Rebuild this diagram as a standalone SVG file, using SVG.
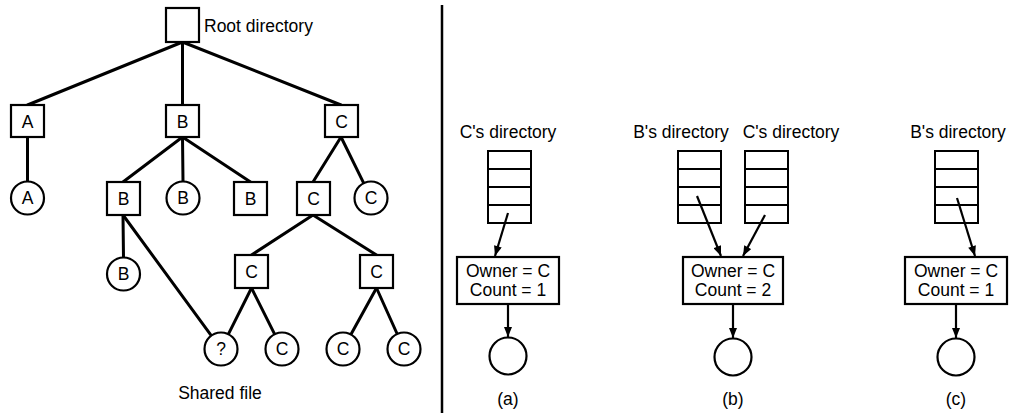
<svg xmlns="http://www.w3.org/2000/svg" width="1009" height="413" viewBox="0 0 1009 413">
<style>
text{font-family:"Liberation Sans",Arial,sans-serif;font-size:17.5px;fill:#000}
.c{text-anchor:middle}
.box{fill:#fff;stroke:#000;stroke-width:2.2}
.edge{stroke:#000;stroke-width:3;fill:none;stroke-linecap:round}
.tbl{fill:none;stroke:#000;stroke-width:2}
.arr{stroke:#000;stroke-width:2.2;fill:none;marker-end:url(#ah)}
</style>
<defs>
<marker id="ah" viewBox="0 0 10 8" refX="10" refY="4" markerWidth="11" markerHeight="8" markerUnits="userSpaceOnUse" orient="auto">
<path d="M0,0 L10,4 L0,8 z" fill="#000"/>
</marker>
</defs>
<rect width="1009" height="413" fill="#fff"/>
<g id="connectors">
<line class="edge" x1="182.5" y1="42" x2="27.5" y2="105"/>
<line class="edge" x1="182.5" y1="42" x2="182.5" y2="105"/>
<line class="edge" x1="182.5" y1="42" x2="341" y2="105"/>
<line class="edge" x1="27.5" y1="137" x2="27.5" y2="181.5"/>
<line class="edge" x1="182.5" y1="137" x2="123" y2="182"/>
<line class="edge" x1="182.5" y1="137" x2="183" y2="181.5"/>
<line class="edge" x1="182.5" y1="137" x2="250.5" y2="182"/>
<line class="edge" x1="341" y1="137" x2="313" y2="182"/>
<line class="edge" x1="341" y1="137" x2="363.7" y2="183.2"/>
<line class="edge" x1="123" y1="215" x2="123.5" y2="257.5"/>
<line class="edge" x1="123" y1="215" x2="211.3" y2="335.7"/>
<line class="edge" x1="313" y1="215" x2="251.5" y2="255"/>
<line class="edge" x1="313" y1="215" x2="376.5" y2="255"/>
<line class="edge" x1="251.5" y1="288" x2="228.4" y2="334.2"/>
<line class="edge" x1="251.5" y1="288" x2="274.6" y2="334.2"/>
<line class="edge" x1="376.5" y1="288" x2="350.9" y2="334.5"/>
<line class="edge" x1="376.5" y1="288" x2="397.2" y2="334"/>
<line x1="442" y1="5" x2="442" y2="413" stroke="#000" stroke-width="2.5"/>
<line class="arr" x1="508" y1="213" x2="495" y2="256"/>
<line class="arr" x1="508" y1="304" x2="508" y2="337"/>
<line class="arr" x1="697" y1="196" x2="721" y2="256"/>
<line class="arr" x1="765" y1="215" x2="743" y2="256"/>
<line class="arr" x1="733" y1="304" x2="733" y2="338"/>
<line class="arr" x1="957" y1="198" x2="975" y2="256"/>
<line class="arr" x1="956" y1="304" x2="956" y2="338"/>
</g>
<g id="root"><rect class="box" x="166" y="8" width="33" height="34"/><text x="204" y="31.5">Root directory</text></g>
<g id="dirA"><rect class="box" x="11" y="105" width="33" height="32"/><text class="c" x="27.5" y="127.5">A</text></g>
<g id="dirB"><rect class="box" x="166" y="105" width="33" height="32"/><text class="c" x="182.5" y="127.5">B</text></g>
<g id="dirC"><rect class="box" x="325" y="105" width="33" height="32"/><text class="c" x="341.5" y="127.5">C</text></g>
<g id="fileA"><circle class="box" cx="27.5" cy="198" r="16.5"/><text class="c" x="27.5" y="204">A</text></g>
<g id="dirB2"><rect class="box" x="107" y="182" width="33" height="33"/><text class="c" x="123.5" y="205">B</text></g>
<g id="fileB1"><circle class="box" cx="183" cy="198" r="16.5"/><text class="c" x="183" y="204">B</text></g>
<g id="dirB3"><rect class="box" x="234" y="182" width="33" height="33"/><text class="c" x="250.5" y="205">B</text></g>
<g id="dirC2"><rect class="box" x="297" y="182" width="33" height="33"/><text class="c" x="313.5" y="205">C</text></g>
<g id="fileC1"><circle class="box" cx="371" cy="198" r="16.5"/><text class="c" x="371" y="204">C</text></g>
<g id="fileB2"><circle class="box" cx="123.5" cy="274" r="16.5"/><text class="c" x="123.5" y="280">B</text></g>
<g id="dirC3"><rect class="box" x="235" y="255" width="33" height="33"/><text class="c" x="251.5" y="278">C</text></g>
<g id="dirC4"><rect class="box" x="360" y="255" width="33" height="33"/><text class="c" x="376.5" y="278">C</text></g>
<g id="shared"><circle class="box" cx="221" cy="349" r="16.5"/><text class="c" x="221" y="355">?</text></g>
<g id="fileC2"><circle class="box" cx="282" cy="349" r="16.5"/><text class="c" x="282" y="355">C</text></g>
<g id="fileC3"><circle class="box" cx="343" cy="349" r="16.5"/><text class="c" x="343" y="355">C</text></g>
<g id="fileC4"><circle class="box" cx="404" cy="349" r="16.5"/><text class="c" x="404" y="355">C</text></g>
<g id="sharedLabel"><text class="c" x="220" y="399">Shared file</text></g>

<g id="panelA">
<text class="c" x="508" y="138">C's directory</text>
<g class="tbl"><rect x="488" y="151" width="43" height="72"/><line x1="488" y1="169" x2="531" y2="169"/><line x1="488" y1="187" x2="531" y2="187"/><line x1="488" y1="205" x2="531" y2="205"/></g>
<rect class="box" x="457" y="257" width="102" height="47"/>
<text class="c" x="508" y="277">Owner = C</text>
<text class="c" x="508" y="296">Count = 1</text>
<circle class="box" cx="508" cy="356" r="18.5"/>
<text class="c" x="508" y="405">(a)</text>
</g>
<g id="panelB">
<text class="c" x="681" y="138">B's directory</text>
<text class="c" x="791" y="138">C's directory</text>
<g class="tbl"><rect x="678" y="151" width="43" height="72"/><line x1="678" y1="169" x2="721" y2="169"/><line x1="678" y1="187" x2="721" y2="187"/><line x1="678" y1="205" x2="721" y2="205"/></g>
<g class="tbl"><rect x="745" y="151" width="43" height="72"/><line x1="745" y1="169" x2="788" y2="169"/><line x1="745" y1="187" x2="788" y2="187"/><line x1="745" y1="205" x2="788" y2="205"/></g>
<rect class="box" x="683" y="257" width="100" height="47"/>
<text class="c" x="733" y="277">Owner = C</text>
<text class="c" x="733" y="296">Count = 2</text>
<circle class="box" cx="733" cy="357" r="18.5"/>
<text class="c" x="733" y="405">(b)</text>
</g>
<g id="panelC">
<text class="c" x="958" y="138">B's directory</text>
<g class="tbl"><rect x="935" y="151" width="43" height="72"/><line x1="935" y1="169" x2="978" y2="169"/><line x1="935" y1="187" x2="978" y2="187"/><line x1="935" y1="205" x2="978" y2="205"/></g>
<rect class="box" x="905" y="257" width="102" height="47"/>
<text class="c" x="956" y="277">Owner = C</text>
<text class="c" x="956" y="296">Count = 1</text>
<circle class="box" cx="956" cy="357" r="18.5"/>
<text class="c" x="956" y="405">(c)</text>
</g>
</svg>
